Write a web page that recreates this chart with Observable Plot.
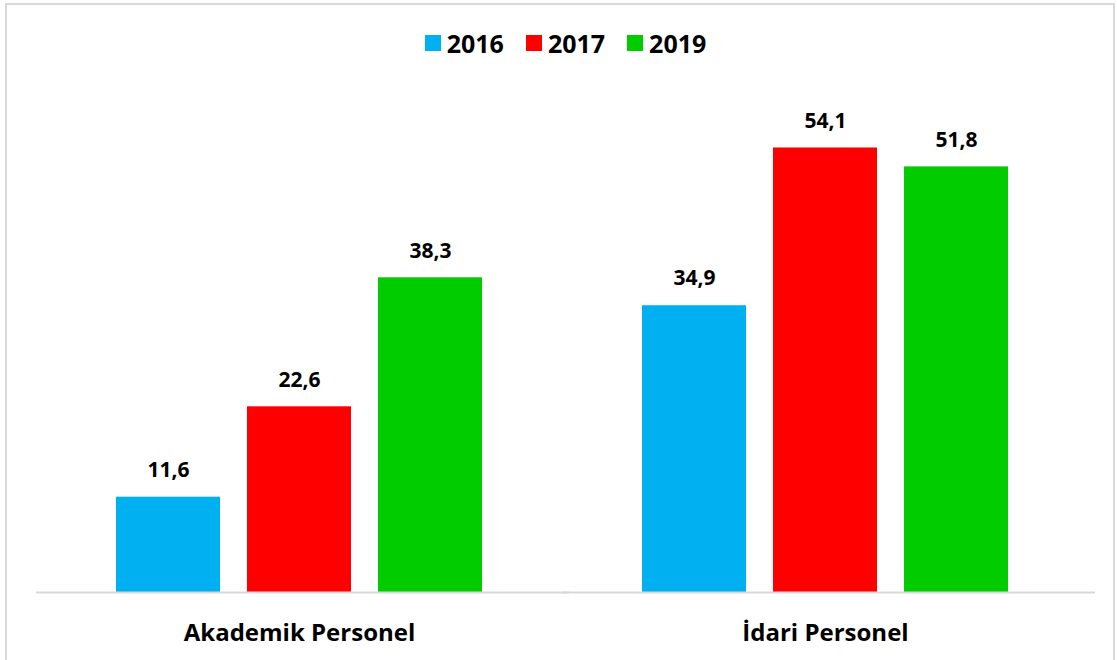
<!DOCTYPE html>
<html>
<head>
<meta charset="utf-8">
<script src="https://cdn.jsdelivr.net/npm/d3@7"></script>
<script src="https://cdn.jsdelivr.net/npm/@observablehq/plot@0.6"></script>
<style>
  html, body { margin: 0; padding: 0; background: #fff; }
  body { width: 1117px; height: 660px; overflow: hidden; position: relative; font-family: "Open Sans", sans-serif; }
  #frame { position: absolute; left: 5px; top: 3px; width: 1110px; height: 700px; border: 2px solid #d9d9d9; box-sizing: border-box; }
  #chart { position: absolute; left: 0; top: 0; }
  #legend { position: absolute; top: 26px; left: 0; width: 1117px; display: flex; justify-content: center; gap: 22px; font-weight: 700; font-size: 25px; line-height: 34px; color: #000; padding-left: 14px; box-sizing: border-box; }
  #legend .item { display: flex; align-items: center; gap: 6px; }
  #legend .sw { width: 16px; height: 16px; display: inline-block; }
</style>
</head>
<body>
<div id="frame"></div>
<div id="chart"></div>
<div id="legend"></div>
<script>
const categories = ["Akademik Personel", "İdari Personel"];
const years = ["2016", "2017", "2019"];
const colors = ["#00B0F0", "#FF0000", "#00CC00"];
const akademik = [11.6, 22.6, 38.3];
const idari = [34.9, 54.1, 51.8];

const data = [];
[akademik, idari].forEach((vals, i) => {
  vals.forEach((v, j) => data.push({cat: categories[i], year: years[j], value: v}));
});
const fmt = v => String(v).replace(".", ",");

const plot = Plot.plot({
  width: 1117,
  height: 660,
  marginTop: 99,
  marginBottom: 68,
  marginLeft: 35,
  marginRight: 29,
  style: {fontFamily: "'Open Sans', sans-serif", background: "transparent"},
  fx: {domain: categories, padding: 0, label: null},
  x: {domain: years, paddingInner: 0.207, paddingOuter: 0.6, axis: null},
  y: {domain: [0, 60], axis: null},
  color: {domain: years, range: colors},
  marks: [
    Plot.barY(data, {fx: "cat", x: "year", y: "value", fill: "year"}),
    Plot.ruleY([0], {stroke: "#d9d9d9", strokeWidth: 2, insetRight: -7}),
    Plot.text(data, {fx: "cat", x: "year", y: "value", text: d => fmt(d.value), dy: -27, fontSize: 21, fontWeight: 700, fill: "#000"}),
    Plot.axisFx({anchor: "bottom", tickSize: 0, tickPadding: 31, fontSize: 24, fontWeight: 700, color: "#000", label: null})
  ]
});
document.getElementById("chart").appendChild(plot);

const legend = document.getElementById("legend");
years.forEach((y, i) => {
  const item = document.createElement("div");
  item.className = "item";
  const sw = document.createElement("span");
  sw.className = "sw";
  sw.style.background = colors[i];
  const t = document.createElement("span");
  t.textContent = y;
  item.appendChild(sw);
  item.appendChild(t);
  legend.appendChild(item);
});
</script>
</body>
</html>
